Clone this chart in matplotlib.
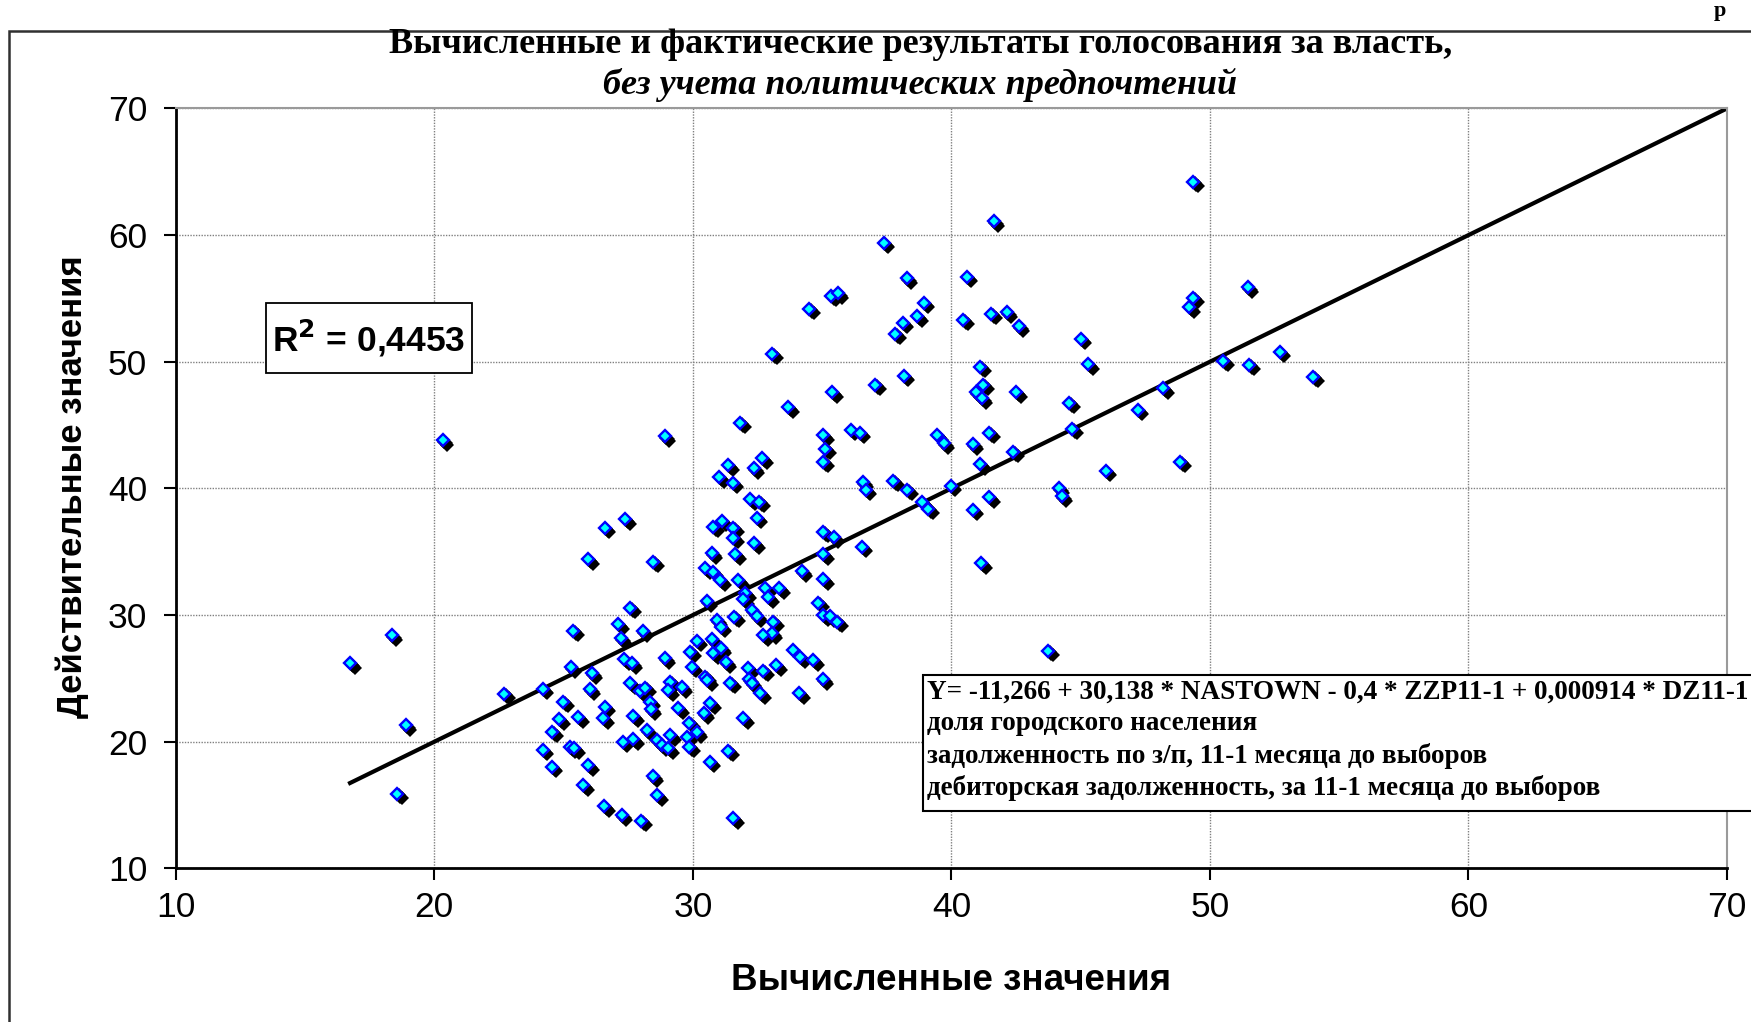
import matplotlib
matplotlib.use('Agg')
import matplotlib.pyplot as plt
from matplotlib.patches import Rectangle
from matplotlib.transforms import offset_copy
import numpy as np

plt.rcParams['font.family'] = ['Liberation Sans', 'DejaVu Sans']

calc = [16.74, 18.35, 18.57, 18.9, 20.32, 22.7, 24.2, 24.19, 24.54, 24.56,
        24.84, 24.99, 25.25, 25.42, 25.28, 25.38, 25.57, 25.76, 25.96, 25.96,
        26.02, 26.09, 26.54, 26.6, 26.6, 26.57, 27.38, 27.12, 27.21, 27.25,
        27.29, 27.34, 27.64, 27.57, 27.57, 27.7, 27.7, 28.0, 28.06, 27.96,
        28.15, 28.34, 28.38, 28.22, 28.6, 28.8, 28.45, 28.63, 28.47, 28.92,
        28.92, 29.12, 29.05, 29.57, 29.44, 29.86, 30.15, 29.76, 29.86, 29.12,
        29.05, 29.96, 29.89, 30.15, 30.47, 30.56, 30.67, 30.43, 30.66, 30.73,
        30.79, 30.54, 30.92, 31.08, 31.08, 31.28, 31.44, 31.37, 31.57, 31.95,
        30.47, 30.77, 30.73, 31.05, 30.79, 31.12, 31.57, 31.57, 31.63, 31.76,
        32.02, 31.95, 31.6, 32.28, 32.47, 33.11, 33.05, 32.73, 32.79, 32.92,
        33.35, 34.22, 32.15, 32.17, 32.28, 32.73, 32.6, 33.22, 33.89, 34.15,
        34.66, 35.03, 34.12, 32.21, 32.57, 32.47, 32.37, 31.03, 31.54, 31.37,
        32.36, 32.68, 31.84, 33.08, 33.69, 35.05, 35.44, 35.05, 35.05, 36.53,
        34.85, 35.05, 35.3, 35.59, 35.05, 35.12, 35.05, 36.1, 36.46, 36.58,
        36.68, 37.76, 38.3, 38.85, 39.11, 39.98, 39.46, 39.7, 40.82, 41.46,
        42.4, 41.12, 40.83, 41.46, 41.15, 43.75, 44.15, 44.27, 44.67, 44.55,
        42.5, 40.95, 41.17, 41.24, 41.12, 45.3, 45.0, 42.6, 42.15, 41.54,
        40.45, 38.12, 37.83, 38.68, 38.93, 38.28, 40.6, 37.39, 41.64, 34.5,
        35.35, 35.6, 38.16, 37.05, 35.39, 45.97, 47.2, 48.2, 48.85, 49.35,
        49.36, 49.2, 51.47, 50.52, 51.53, 52.7, 54.0]
actual = [26.2, 28.4, 15.9, 21.3, 43.8, 23.8, 24.2, 19.35, 18.03, 20.79,
          21.77, 23.16, 19.56, 19.48, 25.87, 28.76, 21.92, 16.58, 18.16, 34.4,
          24.14, 25.4, 21.85, 22.76, 36.9, 14.92, 37.55, 29.27, 28.16, 14.21,
          20.0, 26.5, 26.19, 30.58, 24.6, 22.03, 20.19, 13.76, 28.74, 24.0,
          24.25, 23.16, 22.55, 20.92, 20.13, 19.74, 17.29, 15.79, 34.2, 26.6,
          44.1, 24.74, 24.08, 24.29, 22.64, 21.5, 20.74, 20.4, 19.6, 20.53,
          19.48, 25.92, 27.1, 27.97, 25.13, 24.87, 23.03, 22.24, 18.42, 28.08,
          26.98, 31.1, 29.6, 29.08, 27.37, 26.27, 24.66, 19.29, 13.95, 21.85,
          33.68, 33.42, 34.9, 32.76, 36.97, 37.44, 36.89, 36.1, 34.8, 32.76,
          31.71, 31.24, 29.87, 30.4, 29.92, 29.47, 28.55, 28.42, 32.1, 31.4,
          32.1, 33.47, 25.79, 24.92, 24.6, 25.6, 23.82, 26.05, 27.24, 26.67,
          26.45, 24.92, 23.82, 39.13, 38.94, 37.7, 35.66, 40.87, 40.44, 41.84,
          41.6, 42.4, 45.2, 50.65, 46.4, 36.58, 36.13, 34.8, 32.84, 35.4,
          30.97, 30.0, 29.92, 29.47, 44.2, 43.15, 42.1, 44.65, 44.4, 40.5,
          39.9, 40.6, 39.9, 38.94, 38.4, 40.2, 44.2, 43.55, 43.5, 44.4,
          42.9, 41.9, 38.3, 39.3, 34.08, 27.2, 40.0, 39.4, 44.7, 46.75,
          47.6, 47.6, 47.1, 48.2, 49.6, 49.8, 51.8, 52.8, 53.9, 53.8,
          53.3, 53.07, 52.2, 53.6, 54.65, 56.6, 56.7, 59.4, 61.1, 54.2,
          55.2, 55.4, 48.9, 48.2, 47.6, 41.4, 46.2, 47.9, 42.1, 64.2,
          55.07, 54.3, 55.9, 50.07, 49.75, 50.8, 48.8]

ticks = [10, 20, 30, 40, 50, 60, 70]
title1 = 'Вычисленные и фактические результаты голосования за власть,'
title2 = 'без учета политических предпочтений'
xlabel = 'Вычисленные значения'
ylabel = 'Действительные значения'
r2_text = 'R$^\\mathbf{2}$ = 0,4453'
eq_lines = ['Y= -11,266 + 30,138 * NASTOWN - 0,4 * ZZP11-1 + 0,000914 * DZ11-1',
            'доля городского населения',
            'задолженность по з/п, 11-1 месяца до выборов',
            'дебиторская задолженность, за 11-1 месяца до выборов']

serif = ['Liberation Serif', 'DejaVu Serif']

fig = plt.figure(figsize=(17.51, 10.22), dpi=100)
ax = fig.add_axes([0.1004, 0.1503, 0.8859, 0.7436])

x = np.array(calc)
y = np.array(actual)

# y = x line from the smallest calculated value to the edge
line_x = np.array([x.min(), ticks[-1]])
ax.plot(line_x, line_x, color='black', lw=3, zorder=2)

# 3d-looking diamonds: black shadow then blue/cyan diamond
for d in [1.5, 3, 4.5]:
    tr = offset_copy(ax.transData, fig=fig, x=d, y=-d, units='dots')
    ax.plot(x, y, 'D', ms=6.8, color='black', mew=0, transform=tr, zorder=3)
ax.plot(x, y, 'D', ms=6.3, mfc='#00ffff', mec='#0000ff', mew=1.7, zorder=4)

ax.set_xlim(10, 70)
ax.set_ylim(10, 70)
ax.set_xticks(ticks)
ax.set_yticks(ticks)
ax.grid(True, color='#808080', linestyle=(0, (1, 1)), linewidth=1)
ax.set_axisbelow(True)
ax.tick_params(direction='out', length=8.5, width=1.5, labelsize=25.5)
ax.tick_params(axis='y', pad=12)
ax.tick_params(axis='x', pad=8)
for s in ['top', 'right']:
    ax.spines[s].set_color('#9a9a9a')
    ax.spines[s].set_linewidth(1.5)
ax.spines['left'].set_linewidth(2)
ax.spines['bottom'].set_linewidth(2)

fig.text(0.5255, 0.9481, title1, ha='center', va='baseline', fontsize=26,
         fontweight='bold', family=serif)
fig.text(0.5255, 0.908, title2, ha='center', va='baseline', fontsize=26,
         fontweight='bold', style='italic', family=serif)

fig.text(0.5434, 0.0313, xlabel, ha='center', va='baseline', fontsize=26.5,
         fontweight='bold')
fig.text(0.0411, 0.5235, ylabel, ha='center', va='center', fontsize=25,
         fontweight='bold', rotation=90)

# R^2 box
fig.patches.append(Rectangle((266 / 1751, 1 - 373 / 1022), 206 / 1751, 70 / 1022,
                             transform=fig.transFigure, facecolor='white',
                             edgecolor='black', lw=1.3, zorder=5))
fig.text(369 / 1751, 1 - 338 / 1022, r2_text, ha='center', va='center',
         fontsize=25.5, fontweight='bold', zorder=6)

# equation box, runs off the right edge
fig.patches.append(Rectangle((922.5 / 1751, 1 - 811 / 1022), 0.6, 136 / 1022,
                             transform=fig.transFigure, facecolor='white',
                             edgecolor='black', lw=1.5, zorder=5))
for i, s in enumerate(eq_lines):
    fig.text(927 / 1751, 1 - (692 + 32 * i) / 1022, s, ha='left', va='center',
             fontsize=19.5, fontweight='bold', family=serif, zorder=6)

# outer chart frame
fig.patches.append(Rectangle((9 / 1751, -0.5), 2, 1 - 31 / 1022 + 0.5,
                             transform=fig.transFigure, fill=False,
                             edgecolor='#303030', lw=1.8, zorder=1))
fig.text(0.979, 0.999, 'р', ha='left', va='top', fontsize=16,
         fontweight='bold', family=serif)

fig.savefig('out.png', dpi=100)
